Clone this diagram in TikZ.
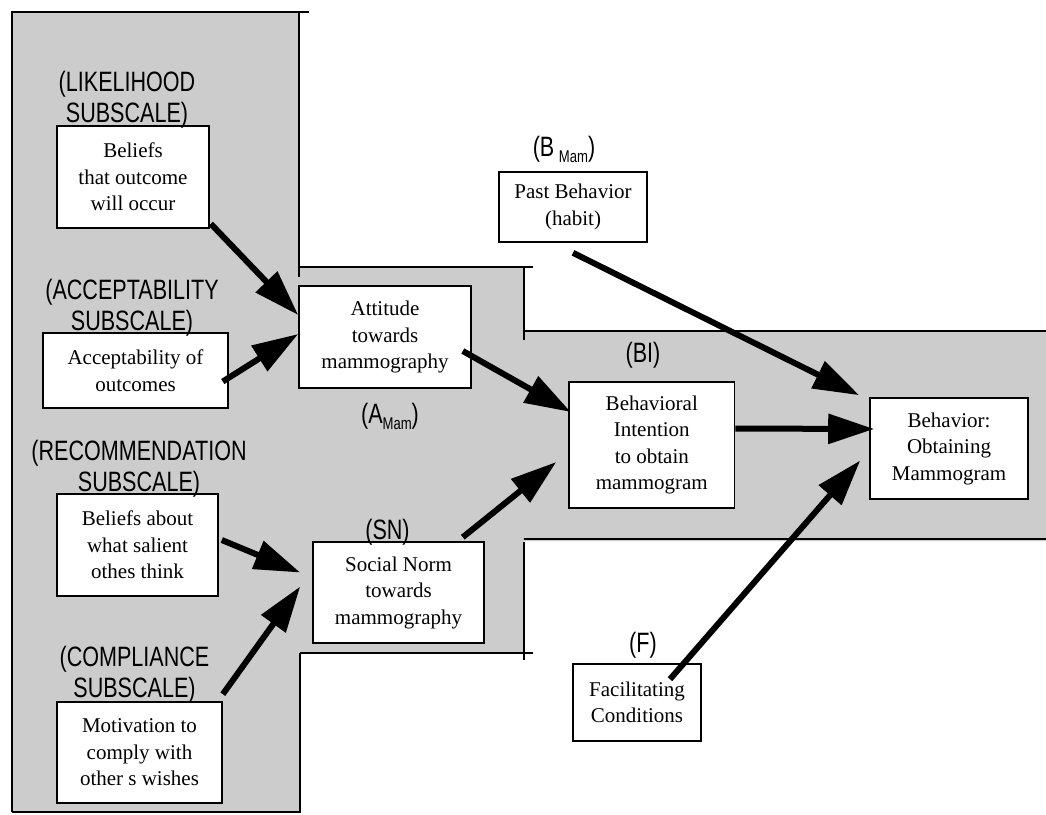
\documentclass[tikz,border=0pt]{standalone}
\usepackage{fontspec}
\setmainfont{Liberation Serif}
\newfontfamily\lblfont[FakeStretch=0.77]{Liberation Sans}
\usetikzlibrary{arrows.meta}
\definecolor{bggray}{RGB}{204,204,204}
\newcommand\mamsub{\raisebox{-6pt}{\fontsize{17}{17}\selectfont Mam}}
\begin{document}
\begin{tikzpicture}[x=1pt,y=-1pt,
  box/.style={draw=black, line width=1.6pt, fill=white, align=center, inner sep=0pt, font=\fontsize{21}{26.5}\selectfont},
  lbl/.style={align=center, inner sep=0pt, font=\lblfont\fontsize{28}{31}\selectfont},
  arr/.style={line width=6pt, -{Triangle[length=46pt,width=29pt]}},
  border/.style={line width=1.6pt}]
\useasboundingbox (0,0) rectangle (1046,814);
% gray area
\fill[bggray] (12,12) -- (299,12) -- (299,267) -- (524,267) -- (524,331) -- (1046,331) -- (1046,541) -- (524,541) -- (524,653) -- (300,653) -- (300,812) -- (12,812) -- cycle;
% borders
\draw[border] (12,812) -- (12,12) -- (309,12);
\draw[border] (299,12) -- (299,277);
\draw[border] (299,267) -- (533,267);
\draw[border] (524,267) -- (524,340);
\draw[border] (524,331) -- (1046,331);
\draw[border] (524,539) -- (1046,539);
\draw[border] (524,542) -- (524,660);
\draw[border] (300,653) -- (533,653);
\draw[border] (300,653) -- (300,813);
\draw[border] (12,812) -- (300,812);
% boxes
\node[box, minimum width=152pt, minimum height=102pt] (b1) at (133,177) {Beliefs\\that outcome\\will occur};
\node[box, minimum width=185pt, minimum height=75pt] (acc) at (135.5,370.5) {Acceptability of\\outcomes};
\node[box, minimum width=172pt, minimum height=102pt] (att) at (385,337) {Attitude\\towards\\mammography};
\node[box, minimum width=161pt, minimum height=102pt] (bab) at (137.5,545) {Beliefs about\\what salient\\othes think};
\node[box, minimum width=171pt, minimum height=101pt] (sn) at (398.5,592.5) {Social Norm\\towards\\mammography};
\node[box, minimum width=165pt, minimum height=101pt] (mot) at (139.5,752.5) {Motivation to\\comply with\\other s wishes};
\node[box, minimum width=148pt, minimum height=70pt] (past) at (573,207) {Past Behavior\\(habit)};
\node[box, minimum width=165.5pt, minimum height=126pt] (bi) at (651.8,445) {Behavioral\\Intention\\to obtain\\mammogram};
\node[box, minimum width=158pt, minimum height=101pt] (beh) at (949,448.5) {Behavior:\\Obtaining\\Mammogram};
\node[box, minimum width=128pt, minimum height=77pt] (fac) at (637,702.5) {Facilitating\\Conditions};
% labels
\node[lbl] (l1) at (127,99.75) {(LIKELIHOOD\\SUBSCALE)};
\node[lbl] (l2) at (132,308) {(ACCEPTABILITY\\SUBSCALE)};
\node[lbl] (l3) at (139,469) {(RECOMMENDATION\\SUBSCALE)};
\node[lbl] (l4) at (134.5,675) {(COMPLIANCE\\SUBSCALE)};
\node[lbl, anchor=base] (la) at (390,423) {(A\mamsub)};
\node[lbl, anchor=base] (lb) at (564,156) {(B\,\mamsub)};
\node[lbl, anchor=base] (lsn) at (387.5,539) {(SN)};
\node[lbl, anchor=base] (lbi) at (643,362) {(BI)};
\node[lbl, anchor=base] (lf) at (643,652) {(F)};
% arrows
\draw[arr] ([xshift=1pt,yshift=5pt]b1.south east) -- ([yshift=22pt]att.west);
\draw[arr] ([xshift=-6pt,yshift=-11pt]acc.east) -- ([yshift=3pt]att.west);
\draw[arr] ([xshift=-9pt,yshift=-14pt]att.east) -- ([xshift=2.5pt,yshift=33pt]bi.west);
\draw[arr] ([xshift=3pt,yshift=5pt]bab.east) -- ([xshift=-12pt,yshift=20pt]sn.west);
\draw[arr] ([yshift=7pt]mot.north east) -- ([xshift=-12pt,yshift=6pt]sn.west);
\draw[arr] ([xshift=-22pt,yshift=4pt]sn.north east) -- ([xshift=-12pt,yshift=-17pt]bi.west);
\draw[arr] ([yshift=-10pt]past.south) -- ([xshift=-10pt,yshift=2pt]beh.north west);
\draw[arr] ([yshift=16.5pt]bi.east) -- ([xshift=5pt,yshift=19.5pt]beh.west);
\draw[arr] ([xshift=33pt,yshift=-16pt]fac.north) -- ([xshift=-9pt,yshift=-12pt]beh.west);
\end{tikzpicture}
\end{document}
